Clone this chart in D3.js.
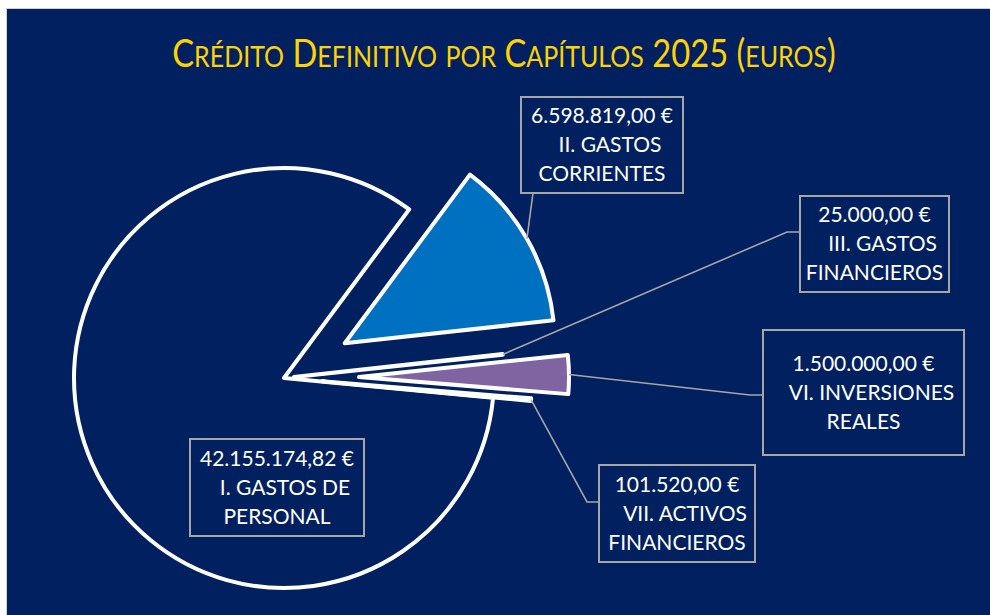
<!DOCTYPE html>
<html>
<head>
<meta charset="utf-8">
<script src="https://cdn.jsdelivr.net/npm/d3@7"></script>
<style>
  body { margin: 0; background: #ffffff; }
  text { font-family: Lato, "Open Sans", sans-serif; }
</style>
</head>
<body>
<svg id="chart" width="990" height="615"></svg>
<script>
// data
const titulo = "Crédito Definitivo por Capítulos 2025 (euros)";
const capitulos = ["I. GASTOS DE PERSONAL", "II. GASTOS CORRIENTES", "III. GASTOS FINANCIEROS",
                   "VI. INVERSIONES REALES", "VII. ACTIVOS FINANCIEROS"];
const creditos = [42155174.82, 6598819.00, 25000.00, 1500000.00, 101520.00];
const etiquetas = [["I. GASTOS DE", "PERSONAL"], ["II. GASTOS", "CORRIENTES"], ["III. GASTOS", "FINANCIEROS"],
                   ["VI. INVERSIONES", "REALES"], ["VII. ACTIVOS", "FINANCIEROS"]];
const colores = ["#002060", "#0070c0", "#ffffff", "#8064a2", "#ffffff"];

// layout (porcion separada y cajas de etiqueta)
const separacion = [0, 70, 10, 75, 38];
const cajas = [
    { x: 190, y: 439, w: 174, h: 97 },
    { x: 521, y: 97,  w: 162, h: 96,  ancla: [533, 193] },
    { x: 800, y: 196, w: 149, h: 96,  ancla: [800, 232], codo: [787, 232] },
    { x: 763, y: 330, w: 201, h: 125, ancla: [763, 395], codo: [750, 395] },
    { x: 599, y: 465, w: 156, h: 97,  ancla: [599, 502], codo: [587, 502] }
];

const W = 990, H = 615;
const cx = 284, cy = 378, radio = 210;
const inicio = 95.38 * Math.PI / 180;

const svg = d3.select("#chart");

svg.append("rect")
    .attr("x", 6.5).attr("y", 8.5)
    .attr("width", W).attr("height", H)
    .attr("fill", "#002060")
    .attr("stroke", "#d0d0d0")
    .attr("stroke-width", 1);

// titulo en versalitas (estrechado a lo ancho del original)
const tituloG = svg.append("g");
const tituloText = tituloG.append("text")
    .attr("x", 0)
    .attr("y", 0)
    .attr("text-anchor", "middle")
    .style("fill", "#ffd200");

var runs = [];
titulo.split("").forEach(function (c) {
    var small = c !== c.toUpperCase();
    if (runs.length && runs[runs.length - 1].small === small) runs[runs.length - 1].t += c;
    else runs.push({ t: c, small: small });
});
tituloText.selectAll("tspan")
    .data(runs)
    .enter()
    .append("tspan")
    .attr("font-size", function (d) { return d.small ? 29 : 38; })
    .text(function (d) { return d.t.toUpperCase(); });

var anchoTitulo = tituloText.node().getComputedTextLength();
tituloG.attr("transform", "translate(504,67) scale(" + (664 / anchoTitulo) + ",1)");

// pie
const pie = d3.pie().sort(null).value(function (d) { return d; })
    .startAngle(inicio).endAngle(inicio + 2 * Math.PI);
const arcs = pie(creditos);
const arc = d3.arc().innerRadius(0).outerRadius(radio);

function desplaz(d, i, extra) {
    var mid = (d.startAngle + d.endAngle) / 2;
    var r = separacion[i] + (extra || 0);
    return [Math.sin(mid) * r, -Math.cos(mid) * r];
}

svg.append("g")
    .attr("transform", "translate(" + cx + "," + cy + ")")
    .selectAll("path")
    .data(arcs)
    .enter()
    .append("path")
    .attr("transform", function (d, i) {
        var o = desplaz(d, i);
        return "translate(" + o[0] + "," + o[1] + ")";
    })
    .attr("d", arc)
    .attr("fill", function (d, i) { return colores[i]; })
    .attr("stroke", "#ffffff")
    .attr("stroke-width", 4)
    .attr("stroke-linejoin", "round");

// lineas guia
const lineaGuia = d3.line();
svg.append("g")
    .selectAll("path")
    .data(arcs.filter(function (d, i) { return cajas[i].ancla; }))
    .enter()
    .append("path")
    .attr("d", function (d) {
        var i = d.index;
        var p = desplaz(d, i, radio);
        var pts = [[cx + p[0], cy + p[1]]];
        if (cajas[i].codo) pts.push(cajas[i].codo);
        pts.push(cajas[i].ancla);
        return lineaGuia(pts);
    })
    .attr("fill", "none")
    .attr("stroke", "#a6a6a6")
    .attr("stroke-width", 1.6);

// etiquetas
const fmt = d3.formatLocale({ decimal: ",", thousands: ".", grouping: [3], currency: ["", " €"] }).format("$,.2f");

const etiq = svg.append("g")
    .selectAll("g")
    .data(arcs)
    .enter()
    .append("g");

etiq.append("rect")
    .attr("x", function (d, i) { return cajas[i].x; })
    .attr("y", function (d, i) { return cajas[i].y; })
    .attr("width", function (d, i) { return cajas[i].w; })
    .attr("height", function (d, i) { return cajas[i].h; })
    .attr("fill", "#002060")
    .attr("stroke", "#a6a6a6")
    .attr("stroke-width", 2);

etiq.append("text")
    .attr("text-anchor", "middle")
    .attr("font-size", 21)
    .style("fill", "#ffffff")
    .selectAll("tspan")
    .data(function (d, i) {
        var lines = [fmt(d.data)].concat(etiquetas[i]);
        return lines.map(function (t, k) { return { t: t, k: k, c: cajas[i] }; });
    })
    .enter()
    .append("tspan")
    .attr("x", function (l) { return l.c.x + l.c.w / 2 + (l.k === 1 ? 8 : 0); })
    .attr("y", function (l) { return l.c.y + l.c.h / 2 + (l.k - 1) * 29 + 7; })
    .text(function (l) { return l.t; });
</script>
</body>
</html>
